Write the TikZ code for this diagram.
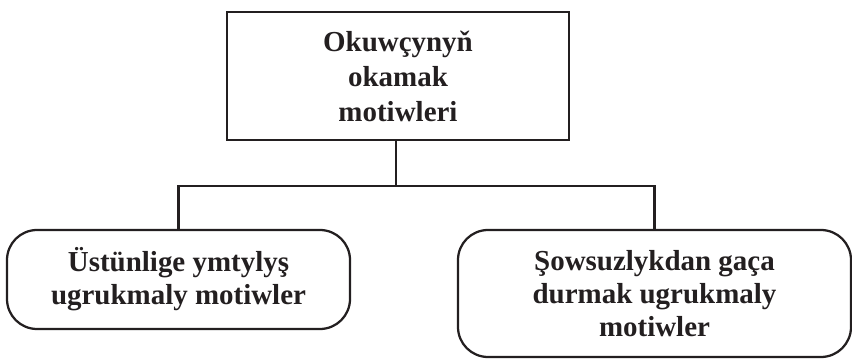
\documentclass[tikz,border=0pt]{standalone}
\usepackage{fontspec}
\setmainfont{Liberation Serif}
\usepackage{tikz}

\definecolor{inkblack}{HTML}{231F20}

\begin{document}
\begin{tikzpicture}[
		scale=1,
		every node/.style={draw=inkblack, line width=1.6pt, align=center, text=inkblack, font=\bfseries\fontsize{20.6}{24.9}\selectfont, inner sep=0pt},
		rounded_box/.style={rounded corners=0.75cm, font=\bfseries\fontsize{20.6}{23.5}\selectfont},
		line width=1.6pt, draw=inkblack
	]
  \useasboundingbox (0cm, 0cm) rectangle (21.3cm, 8.975cm);
  \node (motives) [minimum width=8.55cm, minimum height=3.2cm] at (9.95cm, 7.075cm) {Okuwçynyň\\okamak\\motiwleri};
  \node (superiority) [rounded_box, minimum width=8.575cm, minimum height=2.475cm] at (4.4625cm, 1.9875cm) {Üstünlige ymtylyş\\ugrukmaly motiwler};
  \node (avoidance) [rounded_box, minimum width=9.825cm, minimum height=3.175cm] at (16.3625cm, 1.6375cm) {Şowsuzlykdan gaça\\durmak ugrukmaly\\motiwler};
  \coordinate (fork) at (9.9cm, 4.325cm);
  \draw [inkblack] (motives.south -| fork) -- (fork);
  \draw [inkblack] (fork) -| (superiority.north);
  \draw [inkblack] (fork) -| (avoidance.north);
\end{tikzpicture}
\end{document}
